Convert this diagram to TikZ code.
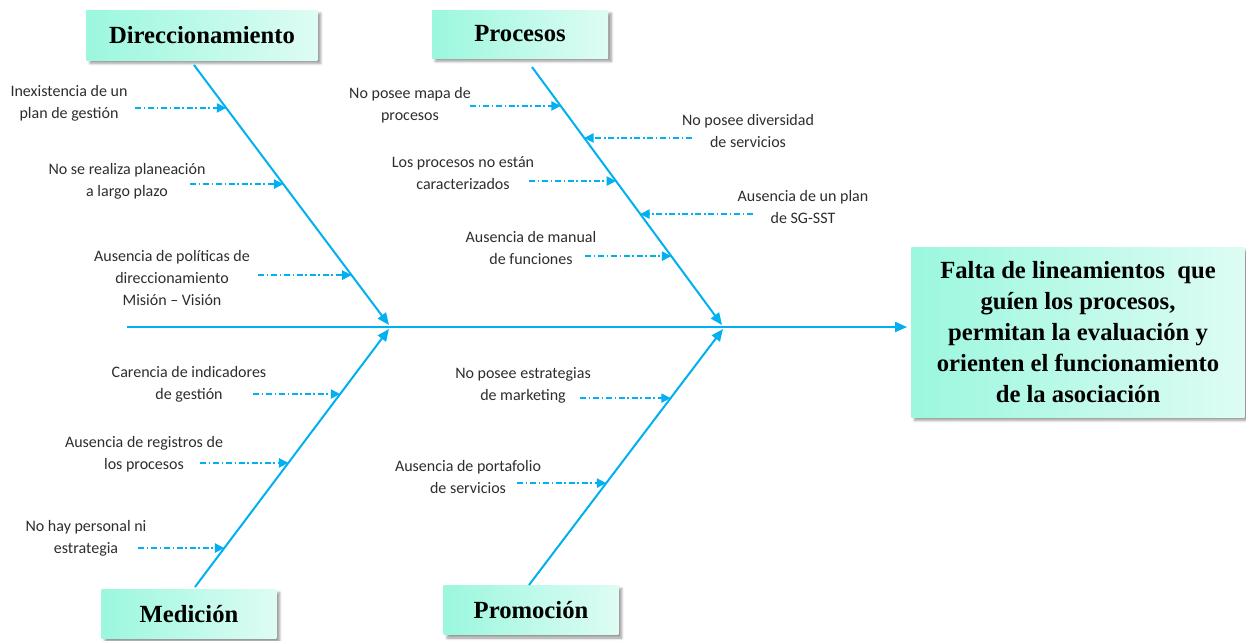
\documentclass[tikz,border=0pt]{standalone}
\usepackage{fontspec}
\setmainfont{Liberation Serif}
\newfontfamily\lblfont{Carlito}
\usepackage{tikz}
\usetikzlibrary{arrows.meta, calc, positioning, shadows.blur}
\definecolor{fishblue}{RGB}{0,176,240}
\definecolor{boxmint}{RGB}{155,247,222}
\definecolor{boxpale}{RGB}{222,252,244}
\definecolor{labelgray}{RGB}{45,45,45}

\tikzset{
  catbox/.style={draw=none, left color=boxmint, right color=boxpale, inner sep=0pt,
    blur shadow={shadow xshift=2.5pt, shadow yshift=-2.5pt, shadow blur steps=6},
    font=\fontsize{18.5}{23.25}\selectfont\bfseries},
  cause/.style={align=center, text=labelgray, inner sep=0pt,
    font=\lblfont\fontsize{12}{16.5}\selectfont},
  bone/.style={fishblue, line width=1.5pt, -{Triangle[length=9pt,width=7.5pt]}},
  rib/.style={fishblue, line width=1pt, dash pattern=on 4.5pt off 2pt on 1.2pt off 2pt,
    -{Triangle[length=7pt,width=7pt]}},
}

\begin{document}
\begin{tikzpicture}[x=0.75pt, y=-0.75pt]
		\useasboundingbox (0,0) rectangle (1246,640);

		% effect and categories
		\node[catbox, align=center, minimum width=250pt, minimum height=127.5pt] (effect) at (1078,332)
			{Falta de lineamientos~ que\\guíen los procesos,\\permitan la evaluación y\\orienten el funcionamiento\\de la asociación};
		\node[catbox, minimum width=173pt, minimum height=37.5pt] (direc) at (202,35) {Direccionamiento};
		\node[catbox, minimum width=132pt, minimum height=36pt] (proc) at (520,34) {Procesos};
		\node[catbox, minimum width=131pt, minimum height=37pt] (medic) at (189,614) {Medición};
		\node[catbox, minimum width=131pt, minimum height=37pt] (promo) at (531,610) {Promoción};

		% spine
		\coordinate (tail) at (127,327);
		\draw [bone] (tail) -- (tail -| effect.west) [shorten >=3pt];

		% bones
		\coordinate (dirtop) at (194,65);
		\coordinate (dirtip) at (389,325);
		\coordinate (proctop) at (532,67);
		\coordinate (proctip) at (722,325);
		\coordinate (medbot) at (195,587);
		\coordinate (medtip) at (389,329);
		\coordinate (probot) at (529,585);
		\coordinate (protip) at (723,329);
		\draw [bone] (dirtop) -- (dirtip);
		\draw [bone] (proctop) -- (proctip);
		\draw [bone] (medbot) -- (medtip);
		\draw [bone] (probot) -- (protip);

		% direccionamiento causes
		\coordinate (d1) at ($(dirtop)!0.165!(dirtip)$);
		\coordinate (d2) at ($(dirtop)!0.458!(dirtip)$);
		\coordinate (d3) at ($(dirtop)!0.808!(dirtip)$);
		\draw [rib] (135,0 |- d1) -- (d1);
		\draw [rib] (190,0 |- d2) -- (d2);
		\draw [rib] (258,0 |- d3) -- (d3);
		\node[cause] (dl1) at (69,103) {Inexistencia de un\\plan de gestión};
		\node[cause] (dl2) at (127,181) {No se realiza planeación\\a largo plazo};
		\node[cause] (dl3) at (172,278) {Ausencia de políticas de\\direccionamiento\\Misión – Visión};

		% procesos causes
		\coordinate (p1) at ($(proctop)!0.151!(proctip)$);
		\coordinate (p2) at ($(proctop)!0.275!(proctip)$);
		\coordinate (p3) at ($(proctop)!0.442!(proctip)$);
		\coordinate (p4) at ($(proctop)!0.570!(proctip)$);
		\coordinate (p5) at ($(proctop)!0.733!(proctip)$);
		\draw [rib] (470,0 |- p1) -- (p1);
		\draw [rib] (692,0 |- p2) -- (p2);
		\draw [rib] (529,0 |- p3) -- (p3);
		\draw [rib] (753,0 |- p4) -- (p4);
		\draw [rib] (585,0 |- p5) -- (p5);
		\node[cause] (pl1) at (410,105) {No posee mapa de\\procesos};
		\node[cause] (pl2) at (748,131) {No posee diversidad\\de servicios};
		\node[cause] (pl3) at (463,173) {Los procesos no están\\caracterizados};
		\node[cause] (pl4) at (803,207) {Ausencia de un plan\\de SG-SST};
		\node[cause] (pl5) at (531,248) {Ausencia de manual\\de funciones};

		% medicion causes
		\coordinate (m1) at ($(medbot)!0.748!(medtip)$);
		\coordinate (m2) at ($(medbot)!0.481!(medtip)$);
		\coordinate (m3) at ($(medbot)!0.151!(medtip)$);
		\draw [rib] (253,0 |- m1) -- (m1);
		\draw [rib] (200,0 |- m2) -- (m2);
		\draw [rib] (138,0 |- m3) -- (m3);
		\node[cause] (ml1) at (189,384) {Carencia de indicadores\\de gestión};
		\node[cause] (ml2) at (144,454) {Ausencia de registros de\\los procesos};
		\node[cause] (ml3) at (86,538) {No hay personal ni\\estrategia};

		% promocion causes
		\coordinate (r1) at ($(probot)!0.730!(protip)$);
		\coordinate (r2) at ($(probot)!0.398!(protip)$);
		\draw [rib] (580,0 |- r1) -- (r1);
		\draw [rib] (517,0 |- r2) -- (r2);
		\node[cause] (rl1) at (523,385) {No posee estrategias\\de marketing};
		\node[cause] (rl2) at (468,477) {Ausencia de portafolio\\de servicios};
\end{tikzpicture}
\end{document}
